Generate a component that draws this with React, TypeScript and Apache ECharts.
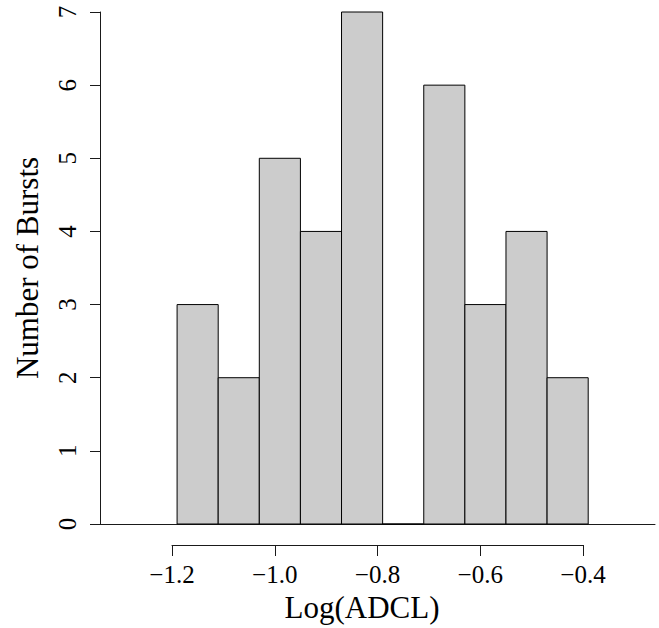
import React, { useEffect, useRef } from "react";
import * as echarts from "echarts";

// Histogram bins of Log(ADCL): left edges, common width and burst counts
const binStarts = [-1.19, -1.11, -1.03, -0.95, -0.87, -0.79, -0.71, -0.63, -0.55, -0.47];
const binWidth = 0.08;
const counts = [3, 2, 5, 4, 7, 0, 6, 3, 4, 2];

// Axis ranges
const xTicks = [-1.2, -1.0, -0.8, -0.6, -0.4];
const xRange = [-1.34, -0.26];
const yTicks = [0, 1, 2, 3, 4, 5, 6, 7];

const SERIF = "Liberation Serif";
const INK = "#1a1a1a";

export default function App() {
  const ref = useRef<HTMLDivElement>(null);

  useEffect(() => {
    if (!ref.current) return;
    const chart = echarts.init(ref.current, undefined, { renderer: "svg" });

    const bins = binStarts.map((s, i) => [s, s + binWidth, counts[i]]);

    chart.setOption({
      animation: false,
      backgroundColor: "#ffffff",
      textStyle: { fontFamily: SERIF },
      grid: [
        { left: 100, top: 12, width: 555, height: 512 },
        { left: 172, top: 544, width: 411, height: 1 },
      ],
      xAxis: [
        {
          type: "value",
          gridIndex: 0,
          min: xRange[0],
          max: xRange[1],
          axisLine: { show: true, onZero: false, lineStyle: { color: INK, width: 1 } },
          axisTick: { show: false },
          axisLabel: { show: false },
          splitLine: { show: false },
        },
        {
          type: "value",
          gridIndex: 1,
          min: xTicks[0],
          max: xTicks[xTicks.length - 1],
          interval: 0.2,
          axisLine: { show: true, lineStyle: { color: INK, width: 1 } },
          axisTick: { show: true, length: 11, lineStyle: { color: INK, width: 1 } },
          axisLabel: {
            show: true,
            margin: 17,
            fontFamily: SERIF,
            fontSize: 25,
            color: "#000",
            formatter: (v: number) => v.toFixed(1).replace("-", "\u2212"),
          },
          splitLine: { show: false },
        },
      ],
      yAxis: [
        {
          type: "value",
          gridIndex: 0,
          min: yTicks[0],
          max: yTicks[yTicks.length - 1],
          interval: 1,
          axisLine: { show: true, lineStyle: { color: INK, width: 1 } },
          axisTick: { show: true, length: 10, lineStyle: { color: INK, width: 1 } },
          axisLabel: {
            show: true,
            rotate: 90,
            margin: 20,
            fontFamily: SERIF,
            fontSize: 25,
            color: "#000",
          },
          splitLine: { show: false },
        },
        { type: "value", gridIndex: 1, show: false, min: 0, max: 1 },
      ],
      graphic: [
        {
          type: "text",
          x: 27,
          y: 268,
          rotation: Math.PI / 2,
          style: {
            text: "Number of Bursts",
            fontFamily: SERIF,
            fontSize: 31,
            fill: "#000",
            align: "center",
            verticalAlign: "middle",
          },
        },
        {
          type: "text",
          x: 362,
          y: 607,
          style: {
            text: "Log(ADCL)",
            fontFamily: SERIF,
            fontSize: 31,
            fill: "#000",
            align: "center",
            verticalAlign: "middle",
          },
        },
      ],
      series: [
        {
          type: "custom",
          xAxisIndex: 0,
          yAxisIndex: 0,
          data: bins,
          encode: { x: [0, 1], y: 2 },
          renderItem: (_params: any, api: any) => {
            const p0 = api.coord([api.value(0), 0]);
            const p1 = api.coord([api.value(1), api.value(2)]);
            return {
              type: "rect",
              shape: {
                x: p0[0],
                y: p1[1],
                width: p1[0] - p0[0],
                height: p0[1] - p1[1],
              },
              style: { fill: "#cccccc", stroke: "#000", lineWidth: 1 },
            };
          },
        },
      ],
    });

    return () => chart.dispose();
  }, []);

  return (
    <div
      ref={ref}
      style={{ position: "fixed", left: 0, top: 0, width: 659, height: 628 }}
    />
  );
}
